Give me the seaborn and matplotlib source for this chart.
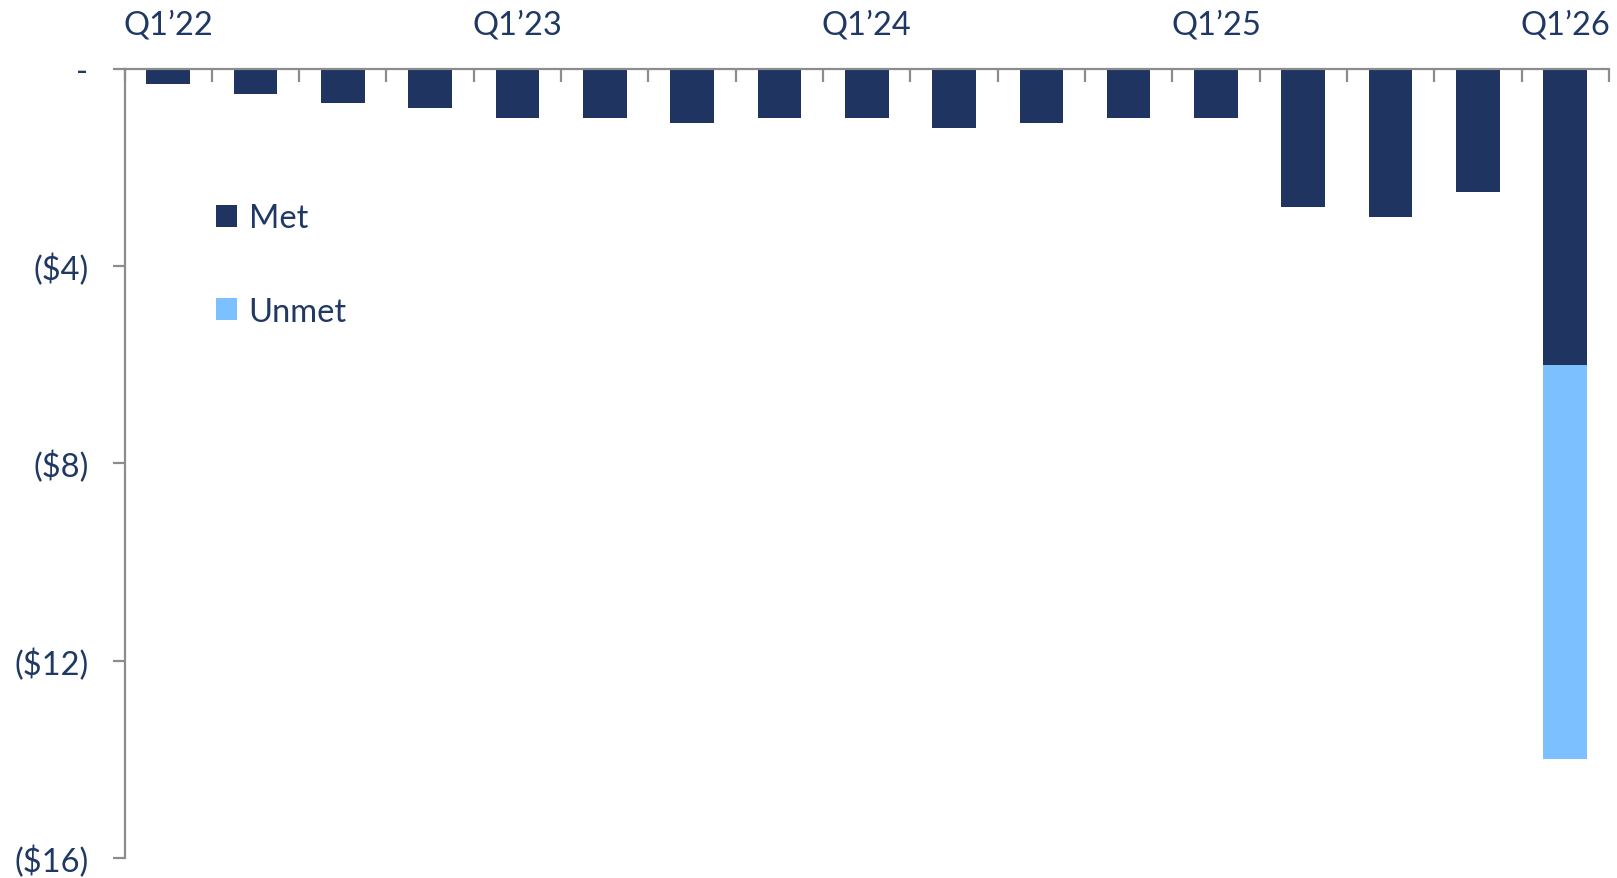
import matplotlib
matplotlib.use("Agg")
import matplotlib.pyplot as plt
from matplotlib.patches import Patch
from matplotlib.ticker import FixedLocator, FixedFormatter
import numpy as np
import pandas as pd
import seaborn as sns

# Quarterly figures ($, negative values)
quarters = ["Q1'22", "Q2'22", "Q3'22", "Q4'22",
            "Q1'23", "Q2'23", "Q3'23", "Q4'23",
            "Q1'24", "Q2'24", "Q3'24", "Q4'24",
            "Q1'25", "Q2'25", "Q3'25", "Q4'25",
            "Q1'26"]
met = [-0.3, -0.5, -0.7, -0.8, -1.0, -1.0, -1.1, -1.0, -1.0,
       -1.2, -1.1, -1.0, -1.0, -2.8, -3.0, -2.5, -6.0]
unmet = [0, 0, 0, 0, 0, 0, 0, 0, 0, 0, 0, 0, 0, 0, 0, 0, -8.0]

y_ticks = [0, -4, -8, -12, -16]
y_tick_labels = ["-", "($4)", "($8)", "($12)", "($16)"]
x_label_quarters = ["Q1\u201922", "Q1\u201923", "Q1\u201924", "Q1\u201925", "Q1\u201926"]

NAVY = "#203462"
LIGHT = "#7DC0FF"
GREY = "#8C8C8C"
TEXT = "#1F3864"
FS = 23.5

sns.set_style("white")
plt.rcParams["font.family"] = ["Lato", "DejaVu Sans"]

df = pd.DataFrame({"quarter": quarters, "met": met, "unmet": unmet})
df["total"] = df["met"] + df["unmet"]

fig = plt.figure(figsize=(16.17, 8.79), dpi=100)
ax = fig.add_axes([0.077, 0.0228, 0.918, 0.8976])

# stacked: full total in light blue, met portion overlaid in navy
sns.barplot(data=df, x="quarter", y="total", color=LIGHT, width=0.5,
            saturation=1, linewidth=0, ax=ax, order=quarters)
sns.barplot(data=df, x="quarter", y="met", color=NAVY, width=0.5,
            saturation=1, linewidth=0, ax=ax, order=quarters)

ax.set_xlim(-0.5, len(quarters) - 0.5)
ax.set_ylim(-16, 0)
ax.set_xlabel("")
ax.set_ylabel("")

# x axis on top: boundary ticks pointing inward, labels at each Q1
ax.xaxis.tick_top()
bounds = np.arange(len(quarters) + 1) - 0.5
ax.xaxis.set_major_locator(FixedLocator(bounds))
ax.xaxis.set_major_formatter(FixedFormatter([""] * len(bounds)))
label_pos = [quarters.index(q.replace("\u2019", "'")) for q in x_label_quarters]
ax.xaxis.set_minor_locator(FixedLocator(label_pos))
ax.xaxis.set_minor_formatter(FixedFormatter(x_label_quarters))
ax.tick_params(axis="x", which="major", direction="in", length=9,
               width=1.6, color=GREY, top=True, bottom=False)
ax.tick_params(axis="x", which="minor", length=0, pad=21, labelsize=FS,
               labelcolor=TEXT, top=True, bottom=False, labeltop=True,
               labelbottom=False)

ax.set_yticks(y_ticks)
ax.set_yticklabels(y_tick_labels)
ax.tick_params(axis="y", direction="out", length=9, width=1.6, color=GREY,
               pad=17, labelsize=FS, labelcolor=TEXT, left=True)

for side in ["right", "bottom"]:
    ax.spines[side].set_visible(False)
for side in ["left", "top"]:
    ax.spines[side].set_color(GREY)
    ax.spines[side].set_linewidth(1.6)

handles = [Patch(facecolor=NAVY, edgecolor="none", label="Met"),
           Patch(facecolor=LIGHT, edgecolor="none", label="Unmet")]
ax.legend(handles=handles, loc="upper left", bbox_to_anchor=(0.0616, 0.83),
          frameon=False, fontsize=FS, labelcolor=TEXT, handlelength=0.65,
          handleheight=0.65, handletextpad=0.35, labelspacing=1.95,
          borderpad=0, borderaxespad=0)

fig.savefig("out.png", dpi=100)
